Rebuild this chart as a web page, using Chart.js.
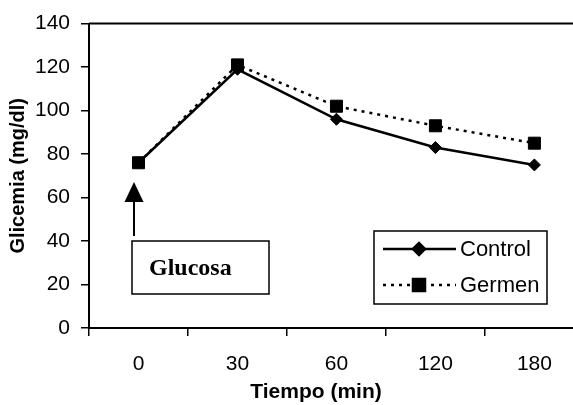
<!DOCTYPE html>
<html>
<head>
<meta charset="utf-8">
<script src="https://cdn.jsdelivr.net/npm/chart.js@4/dist/chart.umd.min.js"></script>
<style>
  html, body { margin: 0; padding: 0; background: #fff; }
  #grafico-wrap { width: 573px; height: 405px; }
</style>
</head>
<body>
<div id="grafico-wrap"><canvas id="grafico"></canvas></div>
<script>
// --- DATOS ---
const tiempos = ['0', '30', '60', '120', '180'];
const control = [76, 119, 96, 83, 75];
const germen = [76, 121, 102, 93, 85];
const yTicks = [0, 20, 40, 60, 80, 100, 120, 140];

// el eje X se corta a la derecha (el área de trazado sigue fuera de la imagen)
const X_MIN = -0.5;
const X_MAX = 4.39;

const aPuntos = (serie) => serie.map((v, i) => ({ x: i, y: v }));

// Línea superior del área, anotación "Glucosa", leyenda y título del eje X
const extrasPlugin = {
    id: 'extras',
    afterDraw(chart) {
        const { ctx, chartArea } = chart;
        const xs = chart.scales.x;
        ctx.save();

        // borde superior del área de trazado
        ctx.strokeStyle = '#000';
        ctx.lineWidth = 2;
        ctx.beginPath();
        ctx.moveTo(chartArea.left, chartArea.top);
        ctx.lineTo(chart.width, chartArea.top);
        ctx.stroke();

        // flecha hacia el punto de tiempo 0
        const ax = Math.round(xs.getPixelForValue(0)) - 4;
        ctx.fillStyle = '#000';
        ctx.lineWidth = 2;
        ctx.beginPath();
        ctx.moveTo(ax, 236);
        ctx.lineTo(ax, 200);
        ctx.stroke();
        ctx.beginPath();
        ctx.moveTo(ax, 182);
        ctx.lineTo(ax - 9.5, 202);
        ctx.lineTo(ax + 9.5, 202);
        ctx.closePath();
        ctx.fill();

        // caja Glucosa
        ctx.lineWidth = 1.5;
        ctx.strokeRect(132, 241, 137, 53);
        ctx.font = 'bold 24px "Liberation Serif", "Times New Roman", serif';
        ctx.textAlign = 'left';
        ctx.textBaseline = 'alphabetic';
        ctx.fillText('Glucosa', 149, 275);

        // leyenda
        ctx.lineWidth = 1.5;
        ctx.strokeRect(374, 231, 173, 73);
        ctx.font = '22px Arial, "Liberation Sans", sans-serif';
        ctx.textBaseline = 'middle';
        const filas = [{ ds: chart.data.datasets[0], y: 249 }, { ds: chart.data.datasets[1], y: 285 }];
        filas.forEach(({ ds, y }) => {
            ctx.strokeStyle = '#000';
            ctx.lineWidth = ds.borderWidth;
            ctx.setLineDash(ds.borderDash || []);
            ctx.beginPath();
            ctx.moveTo(383, y);
            ctx.lineTo(456, y);
            ctx.stroke();
            ctx.setLineDash([]);
            Chart.helpers.drawPoint(ctx, {
                pointStyle: ds.pointStyle,
                radius: ds.pointRadius,
                borderWidth: 1
            }, 419, y);
            ctx.fillStyle = '#000';
            ctx.fill();
            ctx.fillText(ds.label, 460, y + 1);
        });

        // título eje X
        ctx.font = 'bold 21px Arial, "Liberation Sans", sans-serif';
        ctx.textAlign = 'center';
        ctx.textBaseline = 'middle';
        ctx.fillText('Tiempo (min)', 316, 392);

        ctx.restore();
    }
};

const canvas = document.querySelector('#grafico');

new Chart(canvas, {
    type: 'line',
    data: {
        datasets: [
            {
                label: 'Control',
                data: aPuntos(control),
                borderColor: '#000',
                backgroundColor: '#000',
                borderWidth: 2.5,
                pointStyle: 'rectRot',
                pointRadius: 6,
                pointBorderWidth: 1,
                tension: 0
            },
            {
                label: 'Germen',
                data: aPuntos(germen),
                borderColor: '#000',
                backgroundColor: '#000',
                borderWidth: 2.5,
                borderDash: [3, 5],
                pointStyle: 'rect',
                pointRadius: 8.5,
                pointBorderWidth: 1,
                tension: 0
            }
        ]
    },
    options: {
        responsive: true,
        maintainAspectRatio: false,
        animation: false,
        clip: false,
        layout: { autoPadding: false, padding: { left: 0, top: 23, right: 0, bottom: 0 } },
        plugins: {
            legend: { display: false },
            tooltip: { enabled: false }
        },
        scales: {
            x: {
                type: 'linear',
                min: X_MIN,
                max: X_MAX,
                afterBuildTicks: (scale) => { scale.ticks = tiempos.map((_, i) => ({ value: i })); },
                grid: {
                    offset: true,
                    drawOnChartArea: false,
                    drawTicks: true,
                    tickLength: 8,
                    color: '#000',
                    lineWidth: 1.5
                },
                border: { display: true, color: '#000', width: 2 },
                ticks: {
                    color: '#000',
                    padding: 16,
                    maxRotation: 0,
                    autoSkip: false,
                    callback: (value) => tiempos[value],
                    font: { family: 'Arial, "Liberation Sans", sans-serif', size: 21 }
                },
                afterFit: (scale) => {
                    scale.height = 77;
                    scale.paddingLeft = 0;
                    scale.paddingRight = 0;
                }
            },
            y: {
                min: 0,
                max: 140,
                afterBuildTicks: (scale) => { scale.ticks = yTicks.map(v => ({ value: v })); },
                grid: {
                    drawOnChartArea: false,
                    drawTicks: true,
                    tickLength: 8,
                    color: '#000',
                    lineWidth: 1.5
                },
                border: { display: true, color: '#000', width: 2 },
                ticks: {
                    color: '#000',
                    padding: 11,
                    font: { family: 'Arial, "Liberation Sans", sans-serif', size: 21 }
                },
                title: {
                    display: true,
                    text: 'Glicemia (mg/dl)',
                    color: '#000',
                    padding: { top: 6, bottom: 0 },
                    font: { family: 'Arial, "Liberation Sans", sans-serif', size: 20, weight: 'bold' }
                },
                afterFit: (scale) => { scale.width = 89; }
            }
        }
    },
    plugins: [extrasPlugin]
});
</script>
</body>
</html>
